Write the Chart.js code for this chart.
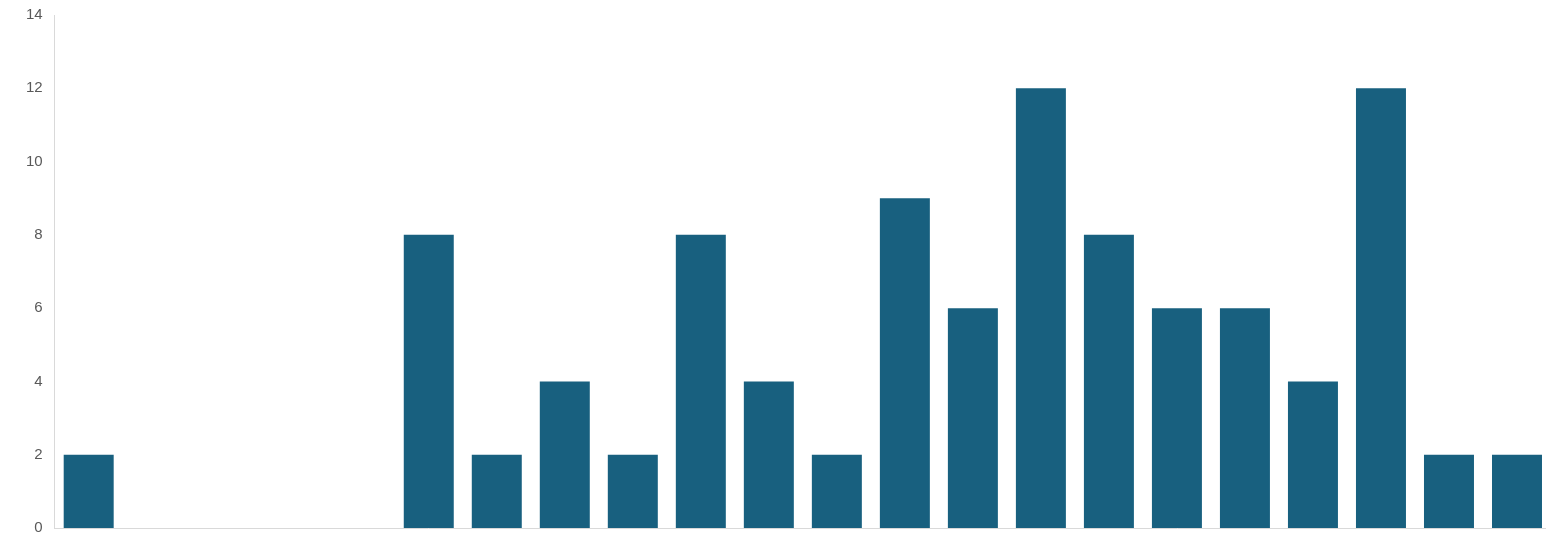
<!DOCTYPE html>
<html>
<head>
<meta charset="utf-8">
<script src="https://cdn.jsdelivr.net/npm/chart.js@4/dist/chart.umd.min.js"></script>
<style>
    html, body { margin: 0; padding: 0; background: #fff; overflow: hidden; }
    /* a área do gráfico passa um pouco da borda direita, como no original */
    #wrap { width: 1551px; height: 538px; }
</style>
</head>
<body>
<div id="wrap"><canvas id="barChart"></canvas></div>
<script>
// categorias sem rótulo visível no gráfico
const categories = ['1', '2', '3', '4', '5', '6', '7', '8', '9', '10', '11',
    '12', '13', '14', '15', '16', '17', '18', '19', '20', '21', '22'];
const values = [2, 0, 0, 0, 0, 8, 2, 4, 2, 8, 4, 2, 9, 6, 12, 8, 6, 6, 4, 12, 2, 2];
const yTicks = [0, 2, 4, 6, 8, 10, 12, 14];

const ctx = document.getElementById('barChart').getContext('2d');
new Chart(ctx, {
    type: 'bar',
    data: {
        labels: categories,
        datasets: [{
            data: values,
            backgroundColor: '#18607f',
            barPercentage: 0.735,
            categoryPercentage: 1.0
        }]
    },
    options: {
        responsive: true,
        maintainAspectRatio: false,
        animation: false,
        layout: { padding: { left: 14, right: 0, top: 15, bottom: 10 } },
        plugins: {
            legend: { display: false },
            tooltip: { enabled: false }
        },
        scales: {
            x: {
                grid: { display: false, drawTicks: false },
                border: { display: true, color: '#d9d9d9', width: 1 },
                ticks: { display: false },
                afterFit: function (axis) {
                    axis.height = 0;
                }
            },
            y: {
                min: 0,
                max: 14,
                afterBuildTicks: function (axis) {
                    axis.ticks = yTicks.map(v => ({ value: v }));
                },
                afterFit: function (axis) {
                    // rótulos podem sair da área sem empurrar o gráfico
                    axis.paddingTop = 0;
                    axis.paddingBottom = 0;
                },
                grid: { display: false, drawTicks: false },
                border: { display: true, color: '#d9d9d9', width: 1 },
                ticks: {
                    padding: 12,
                    color: '#595959',
                    font: { family: 'Liberation Sans, Arial, sans-serif', size: 15 }
                }
            }
        }
    }
});
</script>
</body>
</html>
